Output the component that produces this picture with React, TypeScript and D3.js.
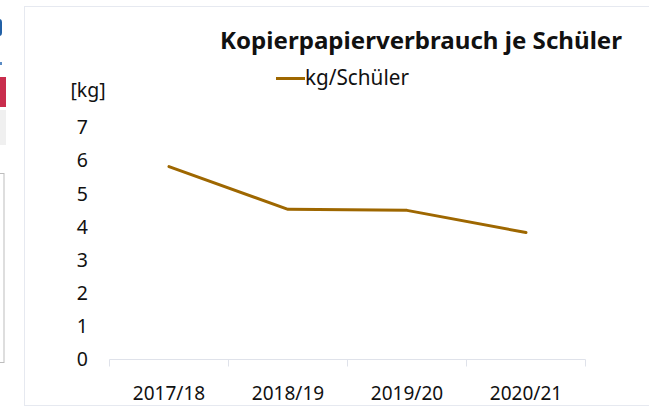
import React, { useEffect, useRef } from "react";
import * as d3 from "d3";

const schoolYears = ["2017/18", "2018/19", "2019/20", "2020/21"];
const kgPerStudent = [5.82, 4.53, 4.5, 3.83];
const yTicks = [0, 1, 2, 3, 4, 5, 6, 7];
const seriesName = "kg/Schüler";
const chartTitle = "Kopierpapierverbrauch je Schüler";
const unitLabel = "[kg]";

const App: React.FC = () => {
  const svgRef = useRef<SVGSVGElement>(null);

  useEffect(() => {
    const width = 649;
    const height = 412;
    const font = "'Noto Sans', 'Open Sans', sans-serif";
    const lineColor = "#9e6700";

    const svg = d3.select(svgRef.current).attr("width", width).attr("height", height);
    svg.selectAll("*").remove();

    // bits of the surrounding page that are cut off on the left
    svg.append("rect").attr("x", 0).attr("y", 0).attr("width", width).attr("height", height).attr("fill", "#fff");
    svg.append("rect").attr("x", -4).attr("y", 19).attr("width", 6).attr("height", 17).attr("rx", 3).attr("fill", "#2160a6");
    svg.append("rect").attr("x", 0).attr("y", 62).attr("width", 2).attr("height", 3).attr("fill", "#5b8cc4");
    svg.append("rect").attr("x", 0).attr("y", 77).attr("width", 6).attr("height", 30).attr("fill", "#c92d4d");
    svg.append("rect").attr("x", 0).attr("y", 110).attr("width", 6).attr("height", 35).attr("fill", "#f0f0f0");
    svg.append("rect").attr("x", -2).attr("y", 173.5).attr("width", 6).attr("height", 189)
      .attr("fill", "#fff").attr("stroke", "#bdbdbd");

    // chart panel
    svg.append("rect").attr("x", 24.5).attr("y", 6.5).attr("width", 640).attr("height", 399)
      .attr("fill", "#fff").attr("stroke", "#e6e9f0");

    const x = d3.scaleBand().domain(schoolYears).range([109.5, 585.5]);
    const y = d3.scaleLinear().domain([0, 7]).range([359.5, 127.5]);

    // x axis
    const axisColor = "#dfe2ea";
    svg.append("line").attr("x1", x.range()[0]).attr("x2", x.range()[1])
      .attr("y1", y(0)).attr("y2", y(0)).attr("stroke", axisColor);
    const bounds = [...schoolYears.map((d) => x(d)!), x.range()[1]];
    svg.selectAll(".xtick").data(bounds).enter().append("line")
      .attr("x1", (d) => d).attr("x2", (d) => d)
      .attr("y1", y(0)).attr("y2", y(0) + 7).attr("stroke", axisColor);

    svg.selectAll(".xlabel").data(schoolYears).enter().append("text")
      .attr("x", (d) => x(d)! + x.bandwidth() / 2)
      .attr("y", 400)
      .attr("text-anchor", "middle")
      .attr("font-family", font).attr("font-size", 19).attr("fill", "#111")
      .text((d) => d);

    // y labels (no axis line)
    svg.selectAll(".ylabel").data(yTicks).enter().append("text")
      .attr("x", 88)
      .attr("y", (d) => y(d))
      .attr("dy", "0.35em")
      .attr("text-anchor", "end")
      .attr("font-family", font).attr("font-size", 19.5).attr("fill", "#111")
      .text((d) => d);

    svg.append("text").attr("x", 88).attr("y", 90).attr("dy", "0.35em")
      .attr("text-anchor", "middle")
      .attr("font-family", font).attr("font-size", 19.5).attr("fill", "#111")
      .text(unitLabel);

    // line
    const line = d3.line<number>()
      .x((_, i) => x(schoolYears[i])! + x.bandwidth() / 2)
      .y((d) => y(d));
    svg.append("path").datum(kgPerStudent).attr("d", line)
      .attr("fill", "none").attr("stroke", lineColor).attr("stroke-width", 3)
      .attr("stroke-linejoin", "round").attr("stroke-linecap", "round");

    // title
    svg.append("text").attr("x", 220).attr("y", 49)
      .attr("font-family", font).attr("font-weight", "bold").attr("font-size", 24).attr("fill", "#111")
      .attr("textLength", 402).attr("lengthAdjust", "spacingAndGlyphs")
      .text(chartTitle);

    // legend
    svg.append("line").attr("x1", 276).attr("x2", 305).attr("y1", 78.5).attr("y2", 78.5)
      .attr("stroke", lineColor).attr("stroke-width", 3);
    svg.append("text").attr("x", 305).attr("y", 85)
      .attr("font-family", font).attr("font-size", 21).attr("fill", "#111")
      .attr("textLength", 104).attr("lengthAdjust", "spacingAndGlyphs")
      .text(seriesName);
  }, []);

  return (
    <div style={{ position: "absolute", left: 0, top: 0, width: 649, height: 412, overflow: "hidden" }}>
      <svg ref={svgRef} style={{ display: "block" }}></svg>
    </div>
  );
};

export default App;
